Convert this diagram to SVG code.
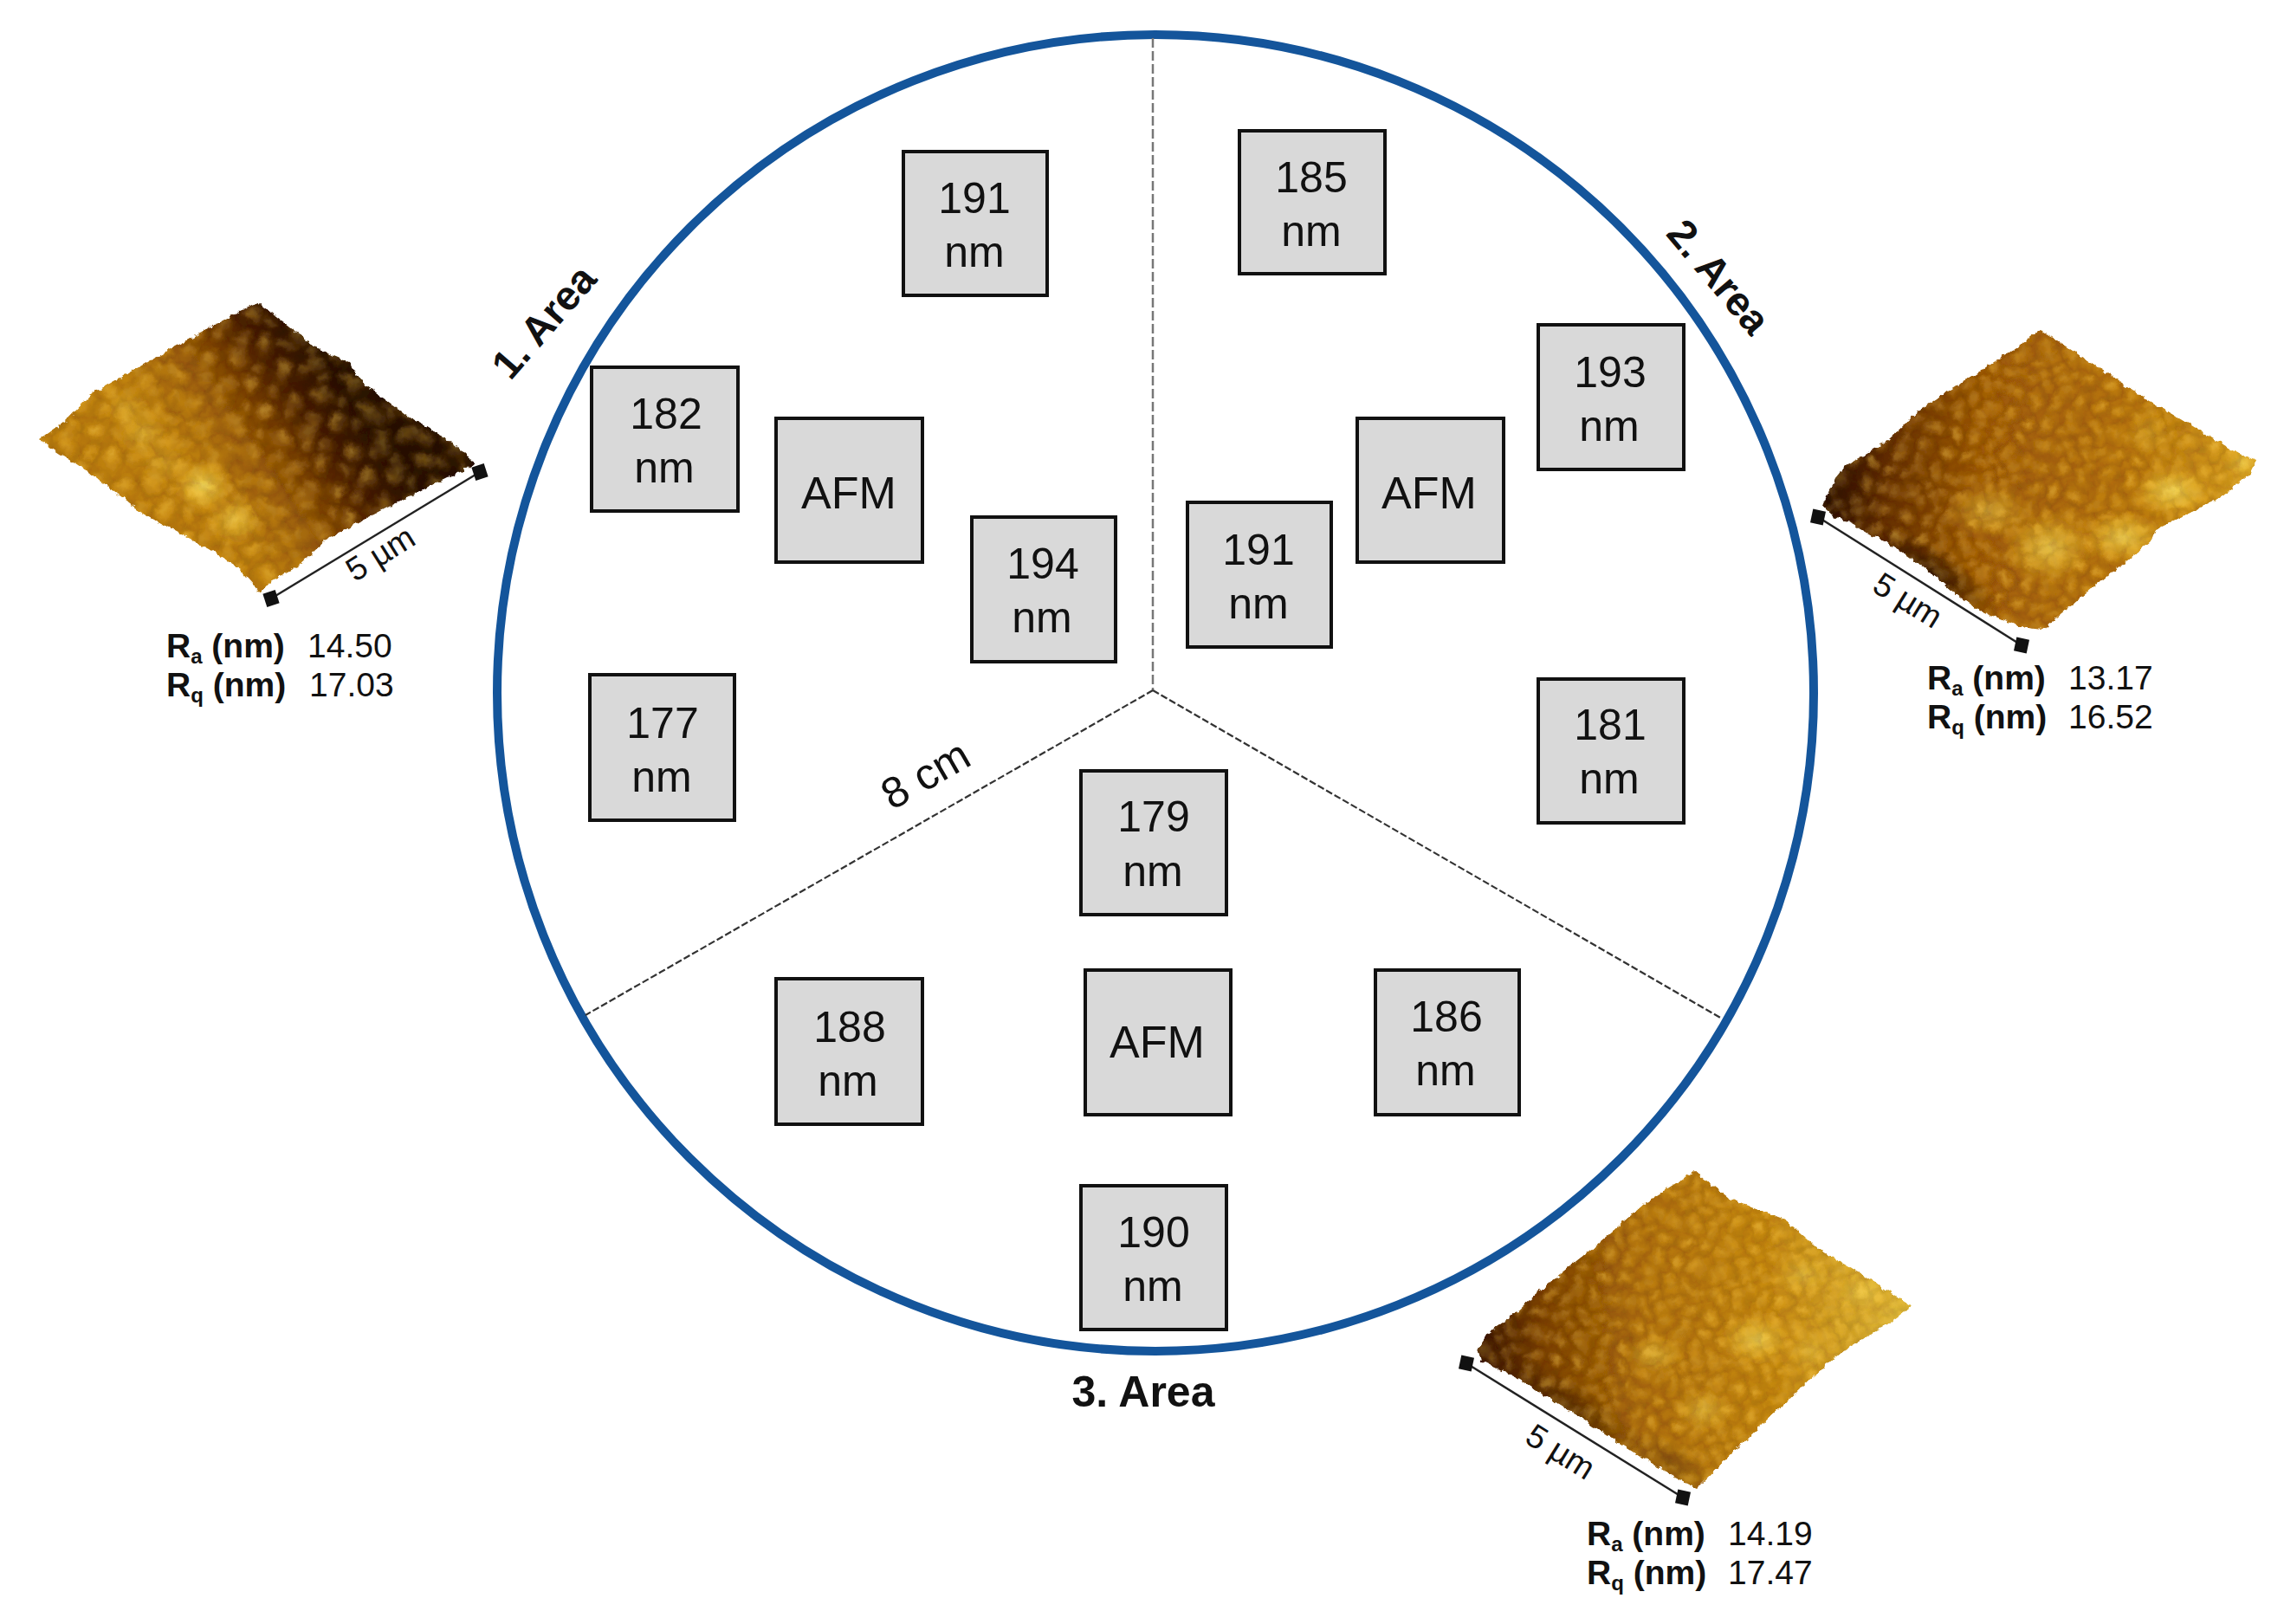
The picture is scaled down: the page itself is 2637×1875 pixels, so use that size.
<svg xmlns="http://www.w3.org/2000/svg" width="2637" height="1875" viewBox="0 0 2637 1875">
<style>
text{font-family:"Liberation Sans",Arial,sans-serif;fill:#111}
.box{fill:#d9d9d9;stroke:#111;stroke-width:4}
.t{font-size:50px;text-anchor:middle}
.area{font-size:50px;font-weight:bold;text-anchor:middle}
.r{font-size:39px;font-weight:bold}
.s{font-size:24px}
.v{font-size:39px}
.u{font-size:38px;text-anchor:middle}
.sb{fill:#111;stroke:none}
.scale{stroke:#222;stroke-width:2.5;fill:none}
.g{fill:url(#bump)}
.h{fill:url(#soft)}
</style>
<defs>
<radialGradient id="bump" cx=".5" cy=".5" r=".5" fx=".44" fy=".34">
<stop offset="0" stop-color="#ffd860" stop-opacity=".3"/><stop offset=".5" stop-color="#e8a820" stop-opacity=".12"/><stop offset=".72" stop-color="#5a2a00" stop-opacity=".05"/><stop offset=".9" stop-color="#3a1500" stop-opacity=".12"/><stop offset="1" stop-color="#3a1500" stop-opacity="0"/>
</radialGradient>
<radialGradient id="soft"><stop offset="0" stop-color="#f8e060" stop-opacity=".95"/><stop offset=".6" stop-color="#e8b830" stop-opacity=".65"/><stop offset="1" stop-color="#e0a020" stop-opacity="0"/></radialGradient>
<radialGradient id="dark"><stop offset="0" stop-color="#1e0800" stop-opacity=".85"/><stop offset="1" stop-color="#1e0800" stop-opacity="0"/></radialGradient>
<pattern id="p1" width="40" height="35" patternUnits="userSpaceOnUse" patternTransform="rotate(-32) scale(1)">
<circle class="g" cx="10" cy="8.75" r="14"/><circle class="g" cx="30" cy="26.25" r="14"/><circle class="g" cx="10" cy="43.75" r="14"/><circle class="g" cx="30" cy="-8.75" r="14"/><circle class="g" cx="50" cy="8.75" r="14"/><circle class="g" cx="-10" cy="26.25" r="14"/>
</pattern>
<pattern id="p2" width="40" height="35" patternUnits="userSpaceOnUse" patternTransform="translate(7 11) rotate(24) scale(1.4)">
<circle class="g" cx="10" cy="8.75" r="14"/><circle class="g" cx="30" cy="26.25" r="14"/><circle class="g" cx="10" cy="43.75" r="14"/><circle class="g" cx="30" cy="-8.75" r="14"/><circle class="g" cx="50" cy="8.75" r="14"/><circle class="g" cx="-10" cy="26.25" r="14"/>
</pattern>
<pattern id="p3" width="40" height="35" patternUnits="userSpaceOnUse" patternTransform="translate(9 14) rotate(-20) scale(.85)">
<circle class="g" cx="10" cy="8.75" r="14"/><circle class="g" cx="30" cy="26.25" r="14"/><circle class="g" cx="10" cy="43.75" r="14"/><circle class="g" cx="30" cy="-8.75" r="14"/><circle class="g" cx="50" cy="8.75" r="14"/><circle class="g" cx="-10" cy="26.25" r="14"/>
</pattern>
<filter id="rough" x="-5%" y="-5%" width="110%" height="110%"><feTurbulence type="fractalNoise" baseFrequency=".14" numOctaves="2" seed="4"/><feDisplacementMap in="SourceGraphic" scale="7" xChannelSelector="R" yChannelSelector="G"/></filter>
<filter id="jit" x="-5%" y="-5%" width="110%" height="110%"><feTurbulence type="fractalNoise" baseFrequency=".03" numOctaves="2" seed="9"/><feDisplacementMap in="SourceGraphic" scale="22" xChannelSelector="R" yChannelSelector="B"/><feGaussianBlur stdDeviation="1.8"/></filter>
<linearGradient id="g1" gradientUnits="userSpaceOnUse" x1="385" y1="430" x2="225" y2="540">
<stop offset="0" stop-color="#261000"/><stop offset=".25" stop-color="#431c00"/><stop offset=".5" stop-color="#7d4404"/><stop offset=".72" stop-color="#a3650a"/><stop offset="1" stop-color="#c0820e"/></linearGradient>
<linearGradient id="g2" gradientUnits="userSpaceOnUse" x1="2115" y1="565" x2="2590" y2="600">
<stop offset="0" stop-color="#2a0e00"/><stop offset=".13" stop-color="#642f02"/><stop offset=".35" stop-color="#a05c07"/><stop offset=".7" stop-color="#b9760a"/><stop offset="1" stop-color="#d8a020"/></linearGradient>
<linearGradient id="g3" gradientUnits="userSpaceOnUse" x1="1715" y1="1560" x2="2190" y2="1530">
<stop offset="0" stop-color="#3a1500"/><stop offset=".14" stop-color="#7c4203"/><stop offset=".38" stop-color="#b0700a"/><stop offset=".7" stop-color="#c98c12"/><stop offset="1" stop-color="#e2bc3a"/></linearGradient>
<clipPath id="c1"><polygon points="46,507 76,486 107,454 183,411 241,379 277,359 299,350 339,382 371,405 402,418 420,443 469,479 527,514 549,536 513,554 455,582 379,621 344,654 312,671 301,684 277,657 241,634 165,593 103,546 54,514"/></clipPath>
<clipPath id="c2"><polygon points="2104,584 2118,553 2132,537 2179,509 2219,471 2317,409 2356,381 2479,461 2581,522 2605,531 2597,547 2565,574 2488,612 2483,626 2439,660 2358,727 2333,724 2280,702 2252,681 2228,660 2179,626 2163,619 2138,605 2118,597"/></clipPath>
<clipPath id="c3"><polygon points="1706,1557 1718,1539 1742,1522 1791,1479 1840,1440 1902,1387 1957,1352 1996,1384 2061,1408 2102,1444 2151,1472 2207,1508 2179,1529 2126,1561 2081,1600 2008,1670 1959,1718 1934,1706 1865,1663 1812,1628 1755,1593 1710,1571"/></clipPath>
</defs>
<rect width="2637" height="1875" fill="#fff"/>
<g id="connectors">
<circle id="wafer" cx="1334" cy="800" r="760" fill="none" stroke="#14559b" stroke-width="10"/>
<line x1="1331" y1="44" x2="1331" y2="797" stroke="#777" stroke-width="2.5" stroke-dasharray="11 4"/>
<line x1="1331" y1="797" x2="676" y2="1172" stroke="#333" stroke-width="2.2" stroke-dasharray="8 3"/>
<line x1="1331" y1="797" x2="1988" y2="1176" stroke="#333" stroke-width="2.2" stroke-dasharray="8 3"/>
</g>
<g id="n191a"><rect class="box" x="1043" y="175" width="166" height="166"/><text class="t" x="1125" y="246">191</text><text class="t" x="1125" y="308">nm</text></g>
<g id="n185"><rect class="box" x="1431" y="151" width="168" height="165"/><text class="t" x="1514" y="222">185</text><text class="t" x="1514" y="284">nm</text></g>
<g id="n182"><rect class="box" x="683" y="424" width="169" height="166"/><text class="t" x="769" y="495">182</text><text class="t" x="767" y="557">nm</text></g>
<g id="afm1box"><rect class="box" x="896" y="483" width="169" height="166"/><text class="t" x="980" y="587" style="font-size:52px">AFM</text></g>
<g id="n194"><rect class="box" x="1122" y="597" width="166" height="167"/><text class="t" x="1204" y="668">194</text><text class="t" x="1203" y="730">nm</text></g>
<g id="n177"><rect class="box" x="681" y="779" width="167" height="168"/><text class="t" x="765" y="852">177</text><text class="t" x="764" y="914">nm</text></g>
<g id="n193"><rect class="box" x="1776" y="375" width="168" height="167"/><text class="t" x="1859" y="447">193</text><text class="t" x="1858" y="509">nm</text></g>
<g id="afm2box"><rect class="box" x="1567" y="483" width="169" height="166"/><text class="t" x="1650" y="587" style="font-size:52px">AFM</text></g>
<g id="n191b"><rect class="box" x="1371" y="580" width="166" height="167"/><text class="t" x="1453" y="652">191</text><text class="t" x="1453" y="714">nm</text></g>
<g id="n181"><rect class="box" x="1776" y="784" width="168" height="166"/><text class="t" x="1859" y="854">181</text><text class="t" x="1858" y="916">nm</text></g>
<g id="n179"><rect class="box" x="1248" y="890" width="168" height="166"/><text class="t" x="1332" y="960">179</text><text class="t" x="1331" y="1023">nm</text></g>
<g id="n188"><rect class="box" x="896" y="1130" width="169" height="168"/><text class="t" x="981" y="1203">188</text><text class="t" x="979" y="1265">nm</text></g>
<g id="afm3box"><rect class="box" x="1253" y="1120" width="168" height="167"/><text class="t" x="1336" y="1221" style="font-size:52px">AFM</text></g>
<g id="n186"><rect class="box" x="1588" y="1120" width="166" height="167"/><text class="t" x="1670" y="1191">186</text><text class="t" x="1669" y="1253">nm</text></g>
<g id="n190"><rect class="box" x="1248" y="1369" width="168" height="166"/><text class="t" x="1332" y="1440">190</text><text class="t" x="1331" y="1502">nm</text></g>
<g id="labels">
<text class="area" transform="translate(640 382) rotate(-49)" style="font-size:47px">1. Area</text>
<text class="area" transform="translate(1972 330) rotate(50)" style="font-size:47px">2. Area</text>
<text class="area" x="1320" y="1624">3. Area</text>
<text class="t" transform="translate(1077 909) rotate(-30)">8 cm</text>
</g>
<g id="afm1">
<g filter="url(#rough)"><g clip-path="url(#c1)">
<rect x="30" y="340" width="540" height="360" fill="url(#g1)"/>
<ellipse cx="234" cy="561" rx="36" ry="32" class="h"/><ellipse cx="272" cy="600" rx="34" ry="30" class="h" opacity=".7"/><ellipse cx="165" cy="500" rx="34" ry="30" class="h" opacity=".45"/><ellipse cx="147" cy="471" rx="30" ry="24" class="h" opacity=".35"/><ellipse cx="190" cy="535" rx="34" ry="30" class="h" opacity=".3"/>
<g filter="url(#jit)"><rect x="30" y="340" width="540" height="360" fill="url(#p1)"/><rect x="30" y="340" width="540" height="360" fill="url(#p2)"/></g>
</g></g>
<path class="scale" d="M313 691L554 545"/>
<rect class="sb" x="-7.5" y="-8" width="15" height="16" transform="translate(313 691) rotate(-18)"/>
<rect class="sb" x="-7.5" y="-8" width="15" height="16" transform="translate(554 545) rotate(-18)"/>
<text class="u" transform="translate(446 650) rotate(-32)">5 µm</text>
<text class="r" x="192" y="759">R<tspan class="s" dy="7">a</tspan><tspan dy="-7"> (nm)</tspan></text>
<text class="v" x="355" y="759">14.50</text>
<text class="r" x="192" y="804">R<tspan class="s" dy="7">q</tspan><tspan dy="-7"> (nm)</tspan></text>
<text class="v" x="357" y="804">17.03</text>
</g>
<g id="afm2">
<g filter="url(#rough)"><g clip-path="url(#c2)">
<rect x="2090" y="370" width="530" height="370" fill="url(#g2)"/>
<ellipse cx="2230" cy="660" rx="90" ry="28" transform="rotate(32 2230 660)" fill="url(#dark)"/>
<ellipse cx="2366" cy="632" rx="56" ry="44" class="h" opacity=".8"/><ellipse cx="2451" cy="620" rx="50" ry="32" class="h" opacity=".9"/><ellipse cx="2508" cy="567" rx="48" ry="30" class="h"/><ellipse cx="2297" cy="590" rx="52" ry="34" class="h" opacity=".55"/><ellipse cx="2480" cy="500" rx="30" ry="30" class="h" opacity=".3"/><ellipse cx="2590" cy="535" rx="24" ry="20" class="h" opacity=".7"/>
<g filter="url(#jit)"><rect x="2090" y="370" width="530" height="370" fill="url(#p1)"/><rect x="2090" y="370" width="530" height="370" fill="url(#p3)"/></g>
</g></g>
<path class="scale" d="M2099 597L2334 745"/>
<rect class="sb" x="-7.5" y="-8" width="15" height="16" transform="translate(2099 597) rotate(12)"/>
<rect class="sb" x="-7.5" y="-8" width="15" height="16" transform="translate(2334 745) rotate(12)"/>
<text class="u" transform="translate(2196 704) rotate(32)">5 µm</text>
<text class="r" x="2225" y="796">R<tspan class="s" dy="7">a</tspan><tspan dy="-7"> (nm)</tspan></text>
<text class="v" x="2388" y="796">13.17</text>
<text class="r" x="2225" y="841">R<tspan class="s" dy="7">q</tspan><tspan dy="-7"> (nm)</tspan></text>
<text class="v" x="2388" y="841">16.52</text>
</g>
<g id="afm3">
<g filter="url(#rough)"><g clip-path="url(#c3)">
<rect x="1695" y="1340" width="530" height="390" fill="url(#g3)"/>
<ellipse cx="1810" cy="1625" rx="105" ry="30" transform="rotate(32 1810 1625)" fill="url(#dark)" opacity=".6"/>
<ellipse cx="1930" cy="1690" rx="60" ry="24" transform="rotate(32 1930 1690)" fill="url(#dark)" opacity=".35"/>
<ellipse cx="2028" cy="1546" rx="46" ry="32" class="h" opacity=".85"/><ellipse cx="1910" cy="1564" rx="38" ry="26" class="h" opacity=".55"/><ellipse cx="1967" cy="1628" rx="38" ry="28" class="h" opacity=".55"/><ellipse cx="2081" cy="1472" rx="38" ry="28" class="h" opacity=".5"/><ellipse cx="2150" cy="1493" rx="44" ry="28" class="h" opacity=".55"/><ellipse cx="2090" cy="1560" rx="34" ry="32" class="h" opacity=".4"/>
<g filter="url(#jit)"><rect x="1695" y="1340" width="530" height="390" fill="url(#p1)"/><rect x="1695" y="1340" width="530" height="390" fill="url(#p3)"/></g>
</g></g>
<path class="scale" d="M1693 1574L1943 1729"/>
<rect class="sb" x="-7.5" y="-8" width="15" height="16" transform="translate(1693 1574) rotate(12)"/>
<rect class="sb" x="-7.5" y="-8" width="15" height="16" transform="translate(1943 1729) rotate(12)"/>
<text class="u" transform="translate(1795 1687) rotate(32)">5 µm</text>
<text class="r" x="1832" y="1784">R<tspan class="s" dy="7">a</tspan><tspan dy="-7"> (nm)</tspan></text>
<text class="v" x="1995" y="1784">14.19</text>
<text class="r" x="1832" y="1829">R<tspan class="s" dy="7">q</tspan><tspan dy="-7"> (nm)</tspan></text>
<text class="v" x="1995" y="1829">17.47</text>
</g>
</svg>
